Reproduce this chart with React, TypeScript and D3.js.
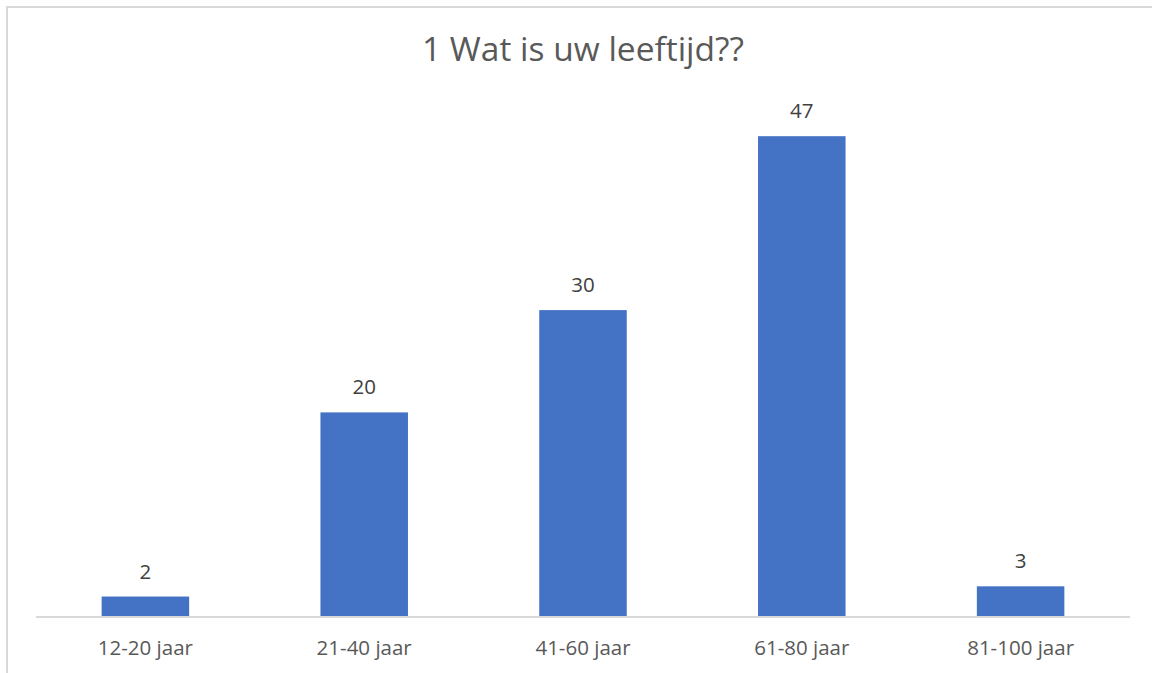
import React from "react";
import * as d3 from "d3";

const categories = ["12-20 jaar", "21-40 jaar", "41-60 jaar", "61-80 jaar", "81-100 jaar"];
const values = [2, 20, 30, 47, 3];
const title = "1 Wat is uw leeftijd??";
const yMax = 50;

export default function App() {
  const W = 1152, H = 673;
  const left = 36, right = 1130, top = 105.5, bottom = 617;
  const x = d3.scaleBand<string>().domain(categories).range([left, right]).padding(0);
  const y = d3.scaleLinear().domain([0, yMax]).range([bottom, top]);
  const bw = x.bandwidth() * 0.4;
  const font = "'Open Sans', 'Noto Sans', sans-serif";
  return (
    <svg width={W} height={H} style={{ position: "absolute", left: 0, top: 0, background: "#fff" }}>
      <rect x={7} y={7} width={1200} height={800} fill="#fff" stroke="#d9d9d9" strokeWidth={2} />
      <text x={583} y={61} textAnchor="middle" fontFamily={font} fontSize={33.5} fill="#595959">{title}</text>
      {categories.map((c, i) => {
        const cx = (x(c) as number) + x.bandwidth() / 2;
        return (
          <g key={c}>
            <rect x={cx - bw / 2} y={y(values[i])} width={bw} height={bottom - y(values[i])} fill="#4472c4" />
            <text x={cx} y={y(values[i]) - 18} textAnchor="middle" fontFamily={font} fontSize={20.5} fill="#404040">{values[i]}</text>
            <text x={cx} y={655} textAnchor="middle" fontFamily={font} fontSize={20.5} fill="#595959">{c}</text>
          </g>
        );
      })}
      <line x1={left} x2={right} y1={bottom} y2={bottom} stroke="#d9d9d9" strokeWidth={2} />
    </svg>
  );
}
